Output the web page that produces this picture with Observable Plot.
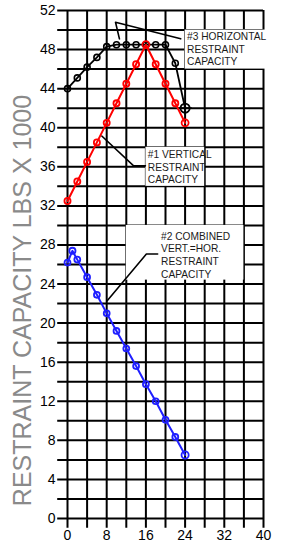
<!DOCTYPE html>
<html>
<head>
<meta charset="utf-8">
<script src="https://cdn.jsdelivr.net/npm/d3@7"></script>
<script src="https://cdn.jsdelivr.net/npm/@observablehq/plot@0.6"></script>
<style>
  html, body { margin: 0; padding: 0; background: #fff; }
  #chart svg { display: block; }
</style>
</head>
<body>
<div id="chart"></div>
<script>
// ---- data ----
const xTickLabels = [0, 8, 16, 24, 32, 40];
const yTickLabels = [0, 4, 8, 12, 16, 20, 24, 28, 32, 36, 40, 44, 48, 52];
const xGrid = [0, 4, 8, 12, 16, 20, 24, 28, 32, 36, 40];
const yGrid = [0, 2, 4, 6, 8, 10, 12, 14, 16, 18, 20, 22, 24, 26, 28, 30, 32, 34, 36, 38, 40, 42, 44, 46, 48, 50, 52];

const seriesX = [0, 2, 4, 6, 8, 10, 12, 14, 16, 18, 20, 22, 24];
const horizontalCapacity = [44.0, 45.1, 46.2, 47.2, 48.3, 48.5, 48.5, 48.5, 48.5, 48.5, 48.5, 46.6, 42.0];
const verticalCapacity = [32.5, 34.5, 36.5, 38.5, 40.5, 42.5, 44.5, 46.5, 48.5, 46.5, 44.5, 42.5, 40.5];
const combinedX = [0, 1, 2, 4, 6, 8, 10, 12, 14, 16, 18, 20, 22, 24];
const combinedCapacity = [26.2, 27.4, 26.5, 24.7, 22.9, 21.0, 19.2, 17.4, 15.6, 13.75, 12.0, 10.1, 8.35, 6.5];

const yTitle = "RESTRAINT CAPACITY LBS X 1000";
const labels = [
  {text: "#3 HORIZONTAL\nRESTRAINT\nCAPACITY", x: 24.4, y: 48.1},
  {text: "#1 VERTICAL\nRESTRAINT\nCAPACITY", x: 16.4, y: 36.0},
  {text: "#2 COMBINED\nVERT.=HOR.\nRESTRAINT\nCAPACITY", x: 19.1, y: 27.0}
];
const labelBoxes = [
  {x1: 24, x2: 41, y1: 46, y2: 50},
  {x1: 16, x2: 28, y1: 34, y2: 38},
  {x1: 12, x2: 36, y1: 24.4, y2: 30}
];
const leaders = [
  {id: 3, pts: [[23.1, 49.1], [9.8, 50.8], [10.6, 49.1]]},
  {id: 1, pts: [[7.0, 39.15], [13.5, 36.1], [15.9, 36.1]]},
  {id: 2, pts: [[8.1, 22.3], [16.1, 27.07], [18.4, 27.07]]}
];

// ---- build tables ----
const hData = seriesX.map((x, i) => ({x, y: horizontalCapacity[i], last: i === seriesX.length - 1}));
const vData = seriesX.map((x, i) => ({x, y: verticalCapacity[i], big: x === 16 || i === seriesX.length - 1}));
const cData = combinedX.map((x, i) => ({x, y: combinedCapacity[i], last: i === combinedX.length - 1, mid: x === 1}));
const leaderData = leaders.flatMap(l => l.pts.map(([x, y]) => ({id: l.id, x, y})));

const crossCircle = {
  draw(context, size) {
    const r = Math.sqrt(size / Math.PI);
    context.moveTo(r, 0);
    context.arc(0, 0, r, 0, 2 * Math.PI);
    context.moveTo(-r * 1.45, 0);
    context.lineTo(r * 1.45, 0);
    context.moveTo(0, -r * 1.45);
    context.lineTo(0, r * 1.45);
  }
};

const chart = Plot.plot({
  width: 302,
  height: 546,
  marginLeft: 67,
  marginRight: 39,
  marginTop: 10,
  marginBottom: 28,
  style: {fontFamily: "'Liberation Sans', Arial, sans-serif", background: "#fff", overflow: "visible"},
  x: {domain: [0, 40]},
  y: {domain: [0, 52]},
  marks: [
    Plot.ruleY(yGrid, {x1: -2, x2: 40, stroke: "#000", strokeWidth: 2}),
    Plot.ruleX(xGrid, {y1: -1, y2: 52, stroke: "#000", strokeWidth: 2}),
    Plot.axisX(xTickLabels, {tickSize: 0, tickPadding: 12, fontSize: 14, fill: "#000", label: null}),
    Plot.axisY(yTickLabels, {tickSize: 0, tickPadding: 12, fontSize: 14, fill: "#000", label: null}),
    Plot.text([yTitle], {frameAnchor: "left", textAnchor: "middle", lineAnchor: "middle", dx: -45, dy: 36, rotate: -90, fontSize: 25, fill: "#8a8a8a", text: d => d}),
    Plot.rect(labelBoxes, {x1: "x1", x2: "x2", y1: "y1", y2: "y2", fill: "#fff"}),
    Plot.line(leaderData, {x: "x", y: "y", z: "id", stroke: "#000", strokeWidth: 1.6}),
    Plot.text(labels, {x: "x", y: "y", text: "text", textAnchor: "start", lineAnchor: "middle", lineHeight: 1.23, fontSize: 10.2, fill: "#1a1a1a"}),
    Plot.line(hData, {x: "x", y: "y", stroke: "#000", strokeWidth: 1.8}),
    Plot.dot(hData.filter(d => !d.last), {x: "x", y: "y", r: 3, stroke: "#000", strokeWidth: 1.6, fill: "none"}),
    Plot.dot(hData.filter(d => d.last), {x: "x", y: "y", r: 4.6, symbol: crossCircle, stroke: "#000", strokeWidth: 1.8, fill: "none"}),
    Plot.line(vData, {x: "x", y: "y", stroke: "#ff0000", strokeWidth: 2}),
    Plot.dot(vData, {x: "x", y: "y", r: d => d.big ? 4.2 : 3.2, stroke: "#ff0000", strokeWidth: 1.8, fill: "none"}),
    Plot.line(cData, {x: "x", y: "y", stroke: "#1f1fff", strokeWidth: 2}),
    Plot.dot(cData, {x: "x", y: "y", r: d => d.last ? 4.4 : d.mid ? 3.3 : 3, stroke: "#1f1fff", strokeWidth: 1.8, fill: "none"})
  ]
});
document.getElementById("chart").appendChild(chart);
</script>
</body>
</html>
